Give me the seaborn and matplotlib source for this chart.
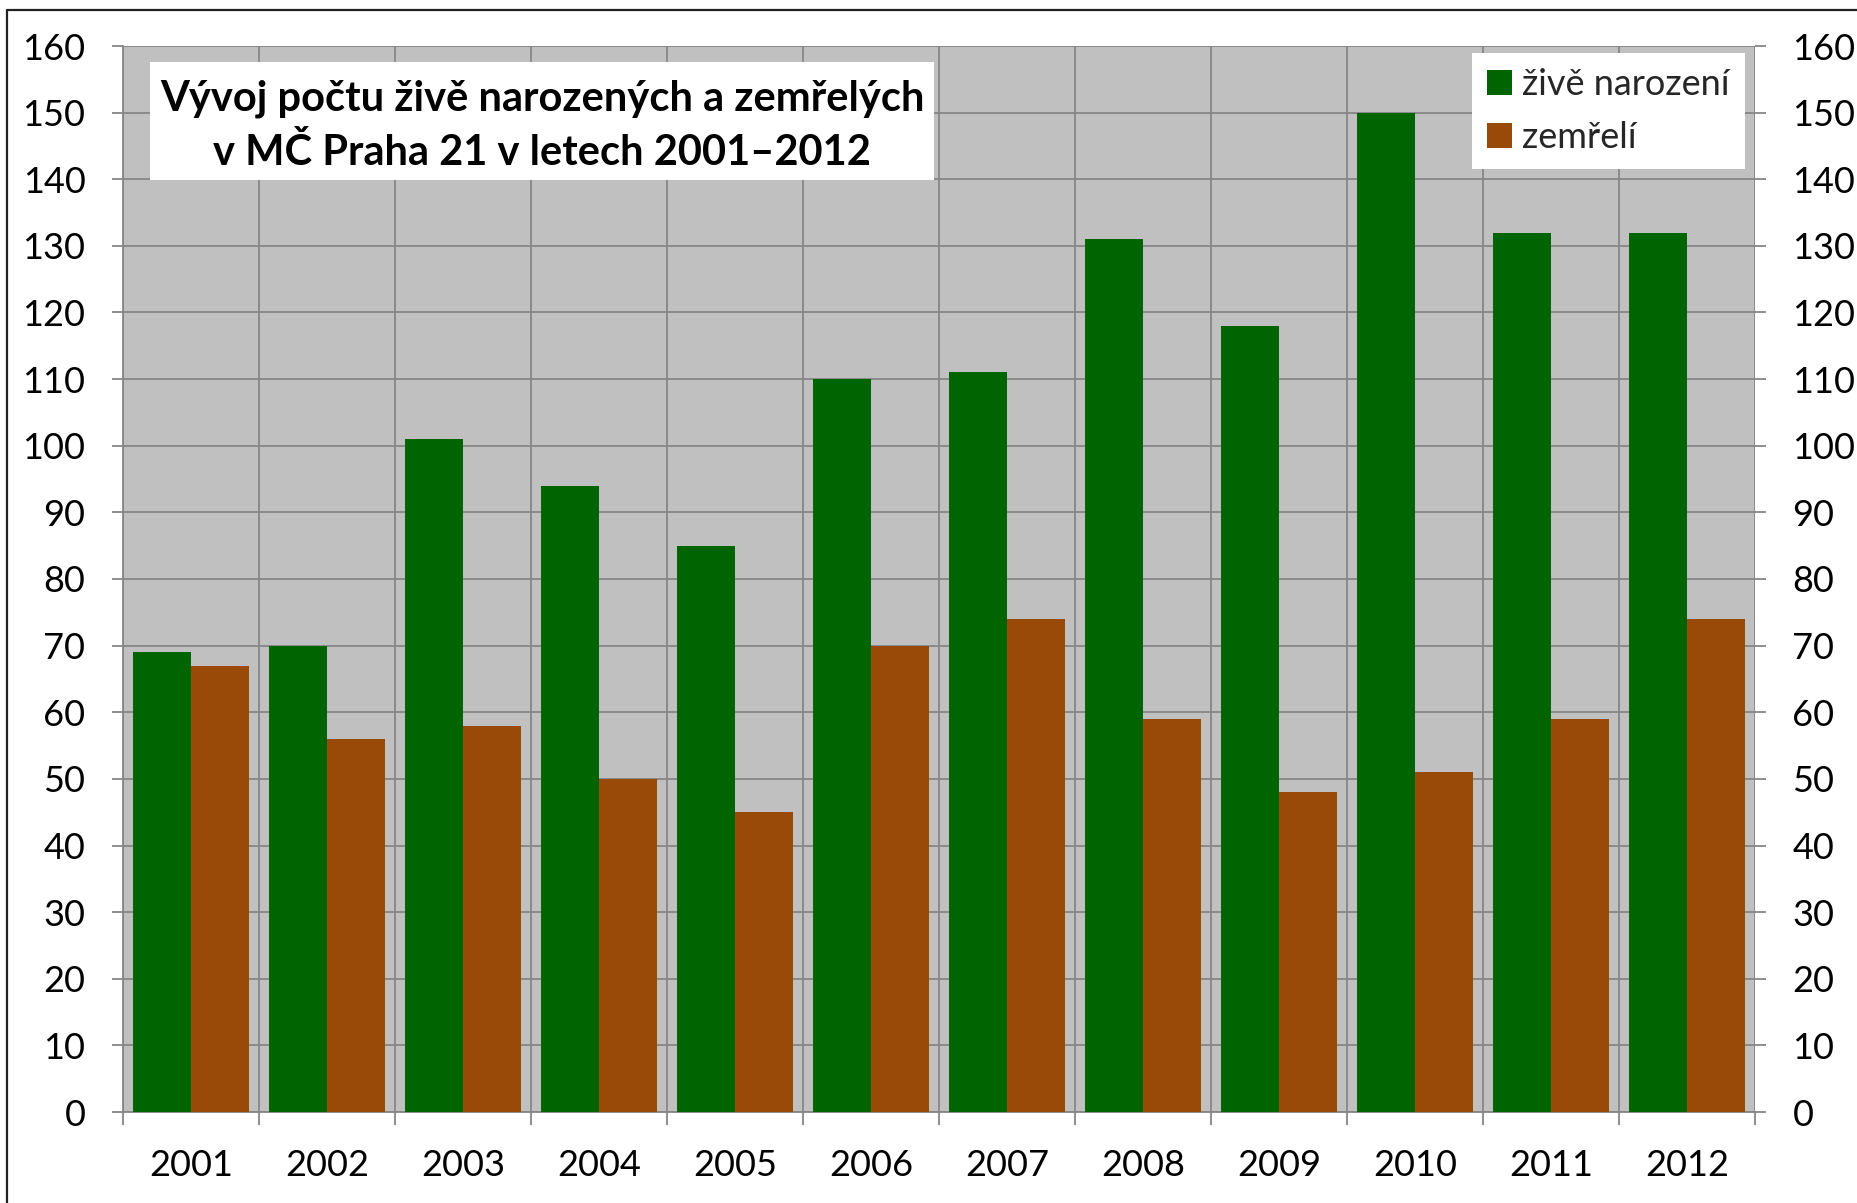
import matplotlib
matplotlib.use("Agg")
import matplotlib.pyplot as plt
from matplotlib.lines import Line2D
from matplotlib.patches import Rectangle, Patch
import seaborn as sns
import pandas as pd
import numpy as np

years = ["2001", "2002", "2003", "2004", "2005", "2006", "2007", "2008", "2009", "2010", "2011", "2012"]
births = [69, 70, 101, 94, 85, 110, 111, 131, 118, 150, 132, 132]
deaths = [67, 56, 58, 50, 45, 70, 74, 59, 48, 51, 59, 74]
series_names = ["živě narození", "zemřelí"]
title_text = "Vývoj počtu živě narozených a zemřelých\nv MČ Praha 21 v letech 2001–2012"
y_ticks = list(range(0, 161, 10))

GREEN = "#006400"
ORANGE = "#994A08"
BG = "#C0C0C0"
GRID = "#868686"

df = pd.DataFrame({
    "year": years * 2,
    "value": births + deaths,
    "series": [series_names[0]] * len(years) + [series_names[1]] * len(years),
})

sns.set_theme(style="white")
plt.rcParams["font.family"] = ["Lato", "DejaVu Sans"]

W, H = 1857, 1203
fig = plt.figure(figsize=(W / 100, H / 100), dpi=100)
fig.patch.set_facecolor("white")
left, right, top, bottom = 123 / W, 1755 / W, 1 - 46 / H, 1 - 1112 / H
ax = fig.add_axes([left, bottom, right - left, top - bottom])
ax.set_facecolor(BG)

sns.barplot(data=df, x="year", y="value", hue="series", hue_order=series_names,
            palette=[GREEN, ORANGE], width=0.86, saturation=1, dodge=True,
            errorbar=None, ax=ax, legend=False, zorder=3, linewidth=0, edgecolor="none")

ax.set_xlim(-0.5, len(years) - 0.5)
ax.set_ylim(0, 160)
ax.set_yticks(y_ticks)
ax.set_xlabel("")
ax.set_ylabel("")
ax.set_axisbelow(True)

# vertical gridlines at category boundaries via minor ticks
ax.set_xticks(np.arange(-0.5, len(years), 1.0), minor=True)
ax.grid(which="minor", axis="x", color=GRID, linewidth=1.3)
ax.grid(which="major", axis="y", color=GRID, linewidth=1.3)
ax.grid(which="major", axis="x", visible=False)

ax.tick_params(axis="x", which="major", length=0, pad=27, labelsize=26, colors="black")
ax.tick_params(axis="x", which="minor", length=9, width=1.3, color=GRID, direction="out", bottom=True)
ax.tick_params(axis="y", which="major", length=8, width=1.3, color=GRID, direction="out",
               pad=19, labelsize=26, labelcolor="black", left=True)
for s in ax.spines.values():
    s.set_color(GRID)
    s.set_linewidth(1.3)
ax.spines["top"].set_visible(False)
ax.spines["right"].set_visible(False)

ax2 = ax.twinx()
ax2.set_ylim(ax.get_ylim())
ax2.set_yticks(y_ticks)
ax2.tick_params(axis="y", which="major", length=8, width=1.3, color=GRID, direction="out",
                pad=19, labelsize=26, labelcolor="black", right=True)
for s in ax2.spines.values():
    s.set_visible(False)
ax2.grid(False)

# title box
ax2.add_patch(Rectangle((27 / 1632, 1 - 134 / 1066), 784 / 1632, 118 / 1066,
                        transform=ax.transAxes, facecolor="white", edgecolor="none", zorder=5))
ax2.text(0.257, 0.925, title_text, transform=ax.transAxes, ha="center", va="center",
         fontsize=30, fontweight="bold", linespacing=1.45, zorder=6, color="black")

handles = [Patch(facecolor=GREEN, edgecolor="none"), Patch(facecolor=ORANGE, edgecolor="none")]
leg = ax2.legend(handles, series_names, loc="upper right", bbox_to_anchor=(0.9939, 0.9934),
                 borderaxespad=0, fontsize=26, frameon=True, fancybox=False, framealpha=1,
                 handlelength=0.67, handleheight=0.67, handletextpad=0.3, labelspacing=0.55,
                 borderpad=0.42)
leg.get_frame().set_edgecolor("none")
leg.get_frame().set_facecolor("white")
leg.set_zorder(6)

# outer chart frame (left and top edges visible)
fig.add_artist(Line2D([7 / W, 7 / W], [0, 1 - 9.5 / H], color="#222222", linewidth=1.6))
fig.add_artist(Line2D([7 / W, 1], [1 - 9.5 / H, 1 - 9.5 / H], color="#222222", linewidth=1.6))

fig.savefig("out.png", dpi=100)
